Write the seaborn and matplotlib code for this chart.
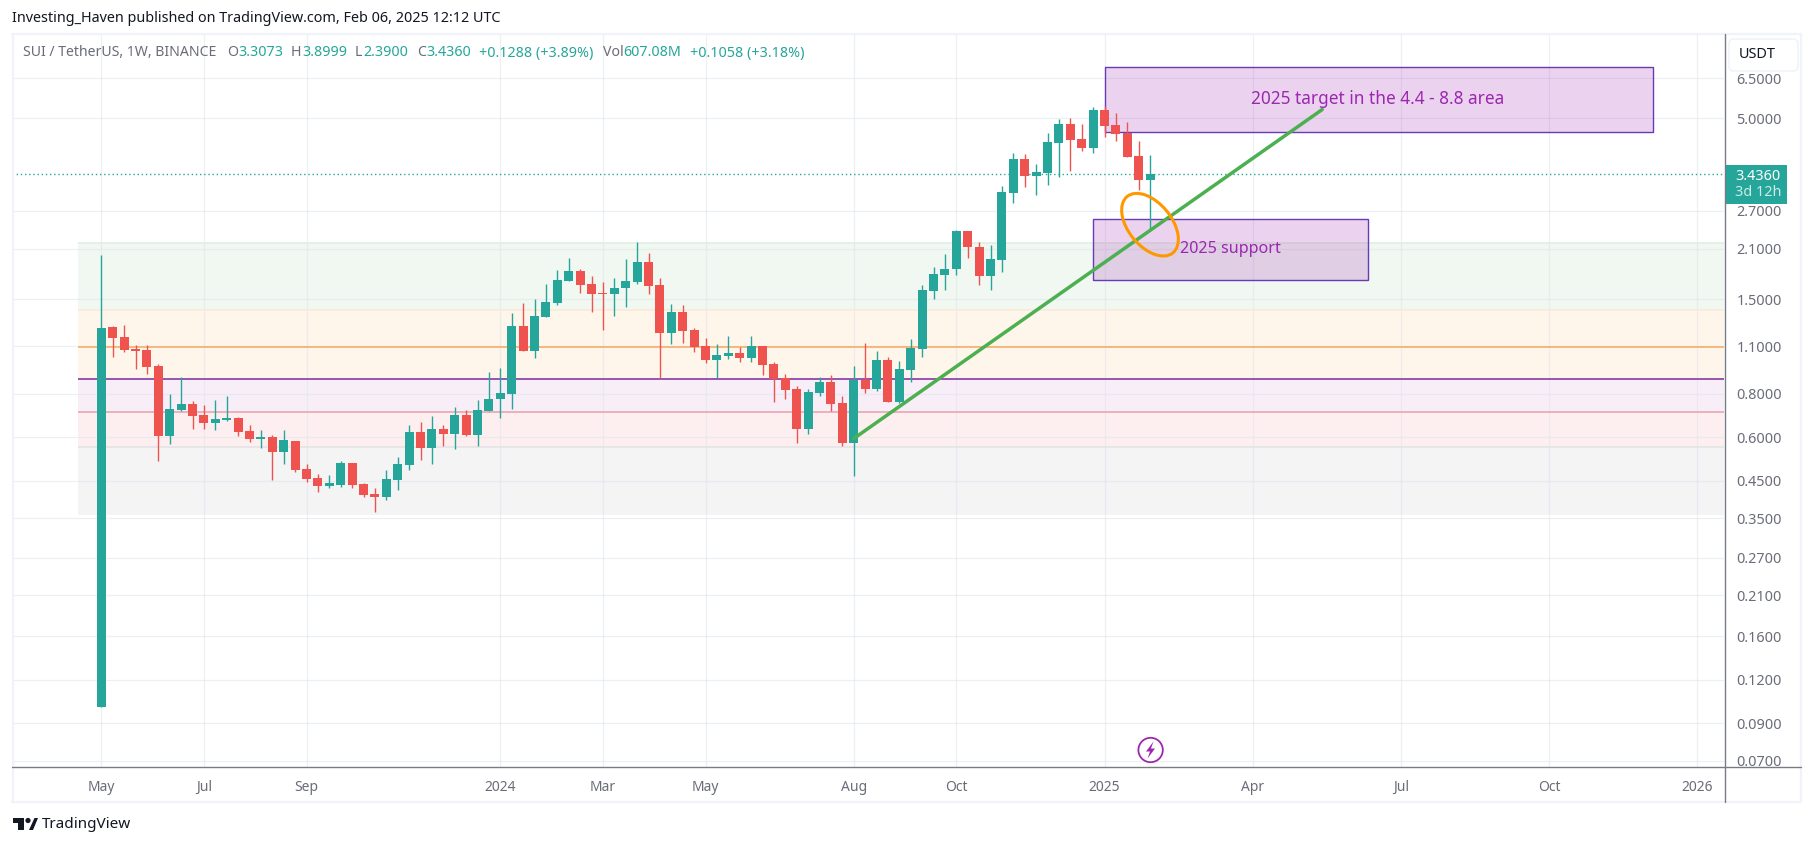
import numpy as np
import pandas as pd
import matplotlib
matplotlib.use('Agg')
import matplotlib.pyplot as plt
from matplotlib.lines import Line2D
from matplotlib.patches import Rectangle, Ellipse, Circle, Polygon, FancyBboxPatch
from matplotlib.transforms import IdentityTransform
import seaborn as sns

W, H = 1814, 846
TEAL = '#26a69a'
RED = '#ef5350'
GREY = '#6a6d78'
PURPLE = '#9c27b0'

# weekly candles
opens = [.100, 1.246, 1.165, 1.076, 1.069, .961, .604, .718, .747, .694, .659, .672, .680, .624, .592, .601,
         .543, .585, .485, .457, .433, .436, .507, .439, .411, .403, .451, .498, .620, .560, .636, .612,
         .694, .609, .713, .772, .799, 1.254, 1.063, 1.332, 1.46, 1.69, 1.807, 1.657, 1.56, 1.55, 1.613, 1.68,
         1.917, 1.647, 1.197, 1.376, 1.22, 1.098, 1.0, 1.027, 1.048, 1.014, 1.098, .974, .888, .825,
         .636, .803, .865, .752, .577, .876, .825, 1.0, .757, .937, 1.076, 1.582, 1.76, 1.83,
         2.356, 2.13, 1.747, 1.943, 3.03, 3.80, 3.395, 3.46, 4.23, 4.80, 4.34, 4.09, 5.26, 4.76, 4.52, 3.88, 3.3073]
highs = [2.01, 1.255, 1.262, 1.105, 1.105, .974, .799, .894, .762, .742, .767, .788, .685, .653, .628, .609,
         .628, .585, .502, .469, .466, .512, .507, .442, .428, .482, .525, .650, .664, .690, .650, .732,
         .718, .767, .924, .949, 1.367, 1.46, 1.50, 1.657, 1.82, 1.98, 1.84, 1.75, 1.68, 1.725, 1.957, 2.19,
         2.035, 1.725, 1.45, 1.44, 1.237, 1.158, 1.113, 1.172, 1.09, 1.172, 1.098, .987, .912, .842,
         .825, .894, .905, .788, .961, 1.12, 1.063, 1.02, .994, 1.15, 1.647, 1.855, 2.02, 2.37,
         2.356, 2.19, 2.147, 3.18, 3.955, 3.93, 3.677, 4.52, 4.96, 4.99, 4.80, 5.37, 5.40, 5.16, 4.86, 4.28, 3.8999]
lows = [.100, 1.02, 1.055, .943, .912, .512, .573, .713, .633, .636, .628, .668, .604, .580, .560, .451,
        .502, .475, .445, .418, .428, .431, .428, .403, .366, .396, .422, .482, .515, .502, .565, .557,
        .604, .565, .713, .680, .722, 1.063, 1.014, 1.332, 1.44, 1.69, 1.56, 1.376, 1.22, 1.34, 1.43, 1.657,
        1.55, .888, 1.113, 1.12, 1.055, .98, .888, 1.008, .987, .987, .905, .757, .776, .577,
        .615, .788, .713, .565, .464, .803, .815, .757, .752, .869, 1.02, 1.50, 1.60, 1.76,
        1.98, 1.647, 1.60, 1.795, 2.84, 3.155, 2.99, 3.20, 3.37, 3.51, 4.01, 3.955, 4.40, 4.28, 3.85, 3.09, 2.39]
closes = [1.24, 1.158, 1.069, 1.063, .955, .604, .722, .747, .690, .659, .676, .680, .620, .592, .601, .543,
          .588, .482, .454, .433, .442, .507, .436, .408, .403, .454, .502, .620, .560, .636, .612, .694,
          .609, .718, .776, .803, 1.254, 1.063, 1.34, 1.47, 1.70, 1.807, 1.647, 1.55, 1.55, 1.62, 1.69, 1.917,
          1.636, 1.197, 1.376, 1.213, 1.09, 1.0, 1.035, 1.048, 1.014, 1.098, .968, .882, .82, .636,
          .808, .865, .747, .577, .876, .825, 1.0, .757, .943, 1.083, 1.592, 1.77, 1.84, 2.356,
          2.12, 1.747, 1.957, 3.05, 3.80, 3.395, 3.486, 4.25, 4.80, 4.31, 4.09, 5.26, 4.73, 4.49, 3.85, 3.3073, 3.436]

tick_weeks = [0, 9, 18, 35, 44, 53, 66, 75, 88, 101, 114, 127, 140]
tick_names = ['May', 'Jul', 'Sep', '2024', 'Mar', 'May', 'Aug', 'Oct', '2025', 'Apr', 'Jul', 'Oct', '2026']
price_ticks = [6.5, 5.0, 2.7, 2.1, 1.5, 1.1, 0.8, 0.6, 0.45, 0.35, 0.27, 0.21, 0.16, 0.12, 0.09, 0.07]

# fib style zones: top, bottom, colour
zone_tops = [2.176, 1.394, 0.882, 0.711, 0.561]
zone_bottoms = [1.394, 0.882, 0.711, 0.561, 0.358]
zone_colors = ['#4caf50', '#ff9800', '#9c27b0', '#f23645', '#787b86']
level_prices = [2.176, 1.394, 1.09, 0.882, 0.711, 0.561]
level_colors = ['#dfeee0', '#fde8d4', '#f5a860', '#7b2a9e', '#e8a0a6', '#e2e3e5']

trend_weeks = [66.0, 107.1]
trend_prices = [0.595, 5.29]
last_price = 3.436

df = pd.DataFrame({'week': np.arange(len(opens)), 'o': opens, 'h': highs, 'l': lows, 'c': closes})
df['bottom'] = df[['o', 'c']].min(axis=1)
df['height'] = (df['o'] - df['c']).abs()
up = df[df['c'] >= df['o']]
down = df[df['c'] < df['o']]

sns.set_theme(style='white')
plt.rcParams['font.family'] = ['Noto Sans', 'DejaVu Sans']

fig = plt.figure(figsize=(W / 100, H / 100), dpi=100, facecolor='white')
ax = fig.add_axes([12 / W, 1 - 767 / H, (1724 - 12) / W, (767 - 35) / H])
ax.set_yscale('log')
ax.set_facecolor('white')

x0 = (12 - 101.3) / 11.4
x1 = (1724 - 101.3) / 11.4
band_left = (78 - 101.3) / 11.4

# zones and level lines
for top, bottom, col in zip(zone_tops, zone_bottoms, zone_colors):
    ax.fill_between([band_left, x1], bottom, top, color=col, alpha=0.08, lw=0, zorder=1)
for price, col in zip(level_prices, level_colors):
    ax.hlines(price, band_left, x1, color=col, lw=1.1, zorder=1.8)

ax.hlines(last_price, x0, x1, color=TEAL, lw=1.0, linestyles=(0, (1, 2)), zorder=2)

# rectangles
ax.add_patch(Rectangle((88, 4.547), 48.1, 7.0 - 4.547, facecolor=PURPLE, alpha=0.2, lw=0, zorder=2))
ax.add_patch(Rectangle((88, 4.547), 48.1, 7.0 - 4.547, fill=False, edgecolor='#673ab7', lw=1.0, zorder=2.1))
ax.add_patch(Rectangle((87, 1.702), 24.1, 2.552 - 1.702, facecolor=PURPLE, alpha=0.2, lw=0, zorder=2))
ax.add_patch(Rectangle((87, 1.702), 24.1, 2.552 - 1.702, fill=False, edgecolor='#673ab7', lw=1.0, zorder=2.1))

# candles
ax.vlines(up['week'], up['l'], up['h'], color=TEAL, lw=1.0, zorder=3)
ax.vlines(down['week'], down['l'], down['h'], color=RED, lw=1.0, zorder=3)
sns.barplot(data=up, x='week', y='height', bottom=up['bottom'].values, native_scale=True, color=TEAL,
            saturation=1, width=0.79, errorbar=None, orient='x', linewidth=0, zorder=4, ax=ax)
sns.barplot(data=down, x='week', y='height', bottom=down['bottom'].values, native_scale=True, color=RED,
            saturation=1, width=0.79, errorbar=None, orient='x', linewidth=0, zorder=4, ax=ax)

# trend line
sns.lineplot(x=trend_weeks, y=trend_prices, color='#4caf50', lw=2.5, zorder=5, ax=ax, errorbar=None)

ax.set_xlim(x0, x1)
ax.set_ylim(0.06721, 8.676)
ax.set_xlabel('')
ax.set_ylabel('')

# grid
for w in tick_weeks:
    ax.axvline(w, color='#e0e3eb', alpha=0.55, lw=0.9, zorder=1.5)
for p in price_ticks:
    ax.axhline(p, color='#e0e3eb', alpha=0.55, lw=0.9, zorder=1.5)
ax.grid(False)

ax.set_xticks(tick_weeks)
ax.set_xticklabels(tick_names)
ax.yaxis.tick_right()
ax.set_yticks(price_ticks)
ax.set_yticklabels(['%.4f' % p for p in price_ticks])
ax.minorticks_off()
ax.tick_params(axis='x', length=0, pad=9, labelsize=10, labelcolor=GREY)
ax.tick_params(axis='y', length=0, pad=9, labelsize=10.4, labelcolor=GREY)
for lab in ax.get_xticklabels():
    if lab.get_text() in ('2024', '2025', '2026'):
        lab.set_fontweight('bold')
for s in ax.spines.values():
    s.set_visible(False)


def px(x, y):
    return x / W, 1 - y / H


def put(x, y, s, color=GREY, size=10, ha='left', **kw):
    fig.text(*px(x, y), s, color=color, fontsize=size, ha=ha, va='center', **kw)


def rule(xa, ya, xb, yb, color, lw=1.0):
    fig.add_artist(Line2D([xa / W, xb / W], [1 - ya / H, 1 - yb / H], color=color, lw=lw))


def shape(points, color):
    fig.add_artist(Polygon([(a, H - b) for a, b in points], facecolor=color, lw=0, transform=IdentityTransform()))


# outer frame and axis lines
for a, b, c, d in [(12, 34, 1801, 34), (12, 802, 1801, 802), (12.5, 34, 12.5, 802), (1801, 34, 1801, 802)]:
    rule(a, b, c, d, '#f0f3fa', 1.6)
rule(12, 767, 1801, 767, '#787b86', 1.0)
rule(1724.5, 34, 1724.5, 802, '#787b86', 1.0)

# orange ellipse, in screen pixels
fig.add_artist(Ellipse((1150, H - 224.7), 72.6, 43.2, angle=-51, fill=False, edgecolor='#ff9800', lw=2.2,
                       transform=IdentityTransform()))

# lightning mark
fig.add_artist(Circle((1150.6, H - 750), 12.2, facecolor='white', edgecolor=PURPLE, lw=1.3,
                      transform=IdentityTransform()))
shape([(1153.5, 741.5), (1146, 751.5), (1150, 751.5), (1147.5, 758.5), (1155, 748.5), (1151, 748.5)], PURPLE)

# header
put(12, 18.5, 'Investing_Haven published on TradingView.com, Feb 06, 2025 12:12 UTC', color='#131722', size=10.35)
put(23, 53, 'SUI / TetherUS, 1W, BINANCE', size=10.15)
for x, s in [(227, 'O'), (291, 'H'), (355, 'L'), (417, 'C'), (603, 'Vol')]:
    put(x, 53, s, size=10.2)
for x, s in [(238, '3.3073'), (302.5, '3.8999'), (363, '2.3900'), (426.5, '3.4360'),
             (479, '+0.1288 (+3.89%)'), (623, '607.08M'), (690, '+0.1058 (+3.18%)')]:
    put(x, 53, s, color=TEAL, size=10.3)

# drawing labels
put(1378, 99.5, '2025 target in the 4.4 - 8.8 area', color=PURPLE, size=12.4, ha='center')
put(1180, 249, '2025 support', color=PURPLE, size=11.6)

# price scale boxes
fig.add_artist(FancyBboxPatch((1732, H - 68), 63, 26, boxstyle='round,pad=3,rounding_size=5',
                              facecolor='white', edgecolor='#f0f3fa', lw=1.2, transform=IdentityTransform()))
put(1757, 54, 'USDT', color='#131722', size=10.4, ha='center')
fig.add_artist(Rectangle((1725, H - 204), 62, 39, facecolor=TEAL, lw=0, transform=IdentityTransform()))
put(1758, 176, '3.4360', color='white', size=10.4, ha='center')
put(1758, 193, '3d 12h', color='#c9ece8', size=10.4, ha='center')

# logo
shape([(13, 818), (24, 818), (24, 830), (18, 830), (18, 823), (13, 823)], '#131722')
shape([(29, 830), (34.5, 818), (38, 818), (33, 830)], '#131722')
fig.add_artist(Circle((28, H - 820.5), 2.6, facecolor='#131722', lw=0, transform=IdentityTransform()))
put(42, 824, 'TradingView', color='#131722', size=11)

fig.savefig('out.png', dpi=100)
